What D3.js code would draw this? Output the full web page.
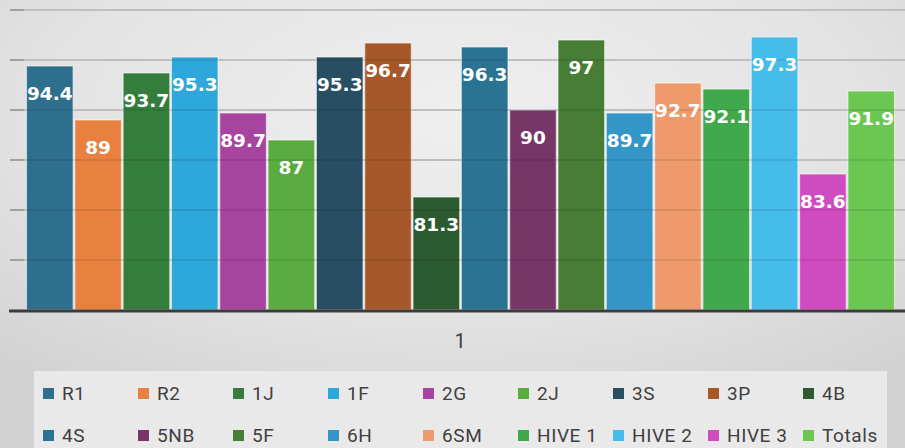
<!DOCTYPE html>
<html>
<head>
<meta charset="utf-8">
<script src="https://cdn.jsdelivr.net/npm/d3@7"></script>
<style>
  body { margin: 0; background: #e4e4e4; }
  svg { display: block; }
</style>
</head>
<body>
<script>
// data
var names = ["R1", "R2", "1J", "1F", "2G", "2J", "3S", "3P", "4B",
             "4S", "5NB", "5F", "6H", "6SM", "HIVE 1", "HIVE 2", "HIVE 3", "Totals"];
var values = [94.4, 89, 93.7, 95.3, 89.7, 87, 95.3, 96.7, 81.3,
              96.3, 90, 97, 89.7, 92.7, 92.1, 97.3, 83.6, 91.9];
var colors = ["#2e6f8e", "#e8803f", "#347d3c", "#2ea7db", "#a6449f", "#5aac40",
              "#274e63", "#a6582b", "#2c5a31", "#2a7392", "#783568", "#477d35",
              "#3496c8", "#ee9a6b", "#40a94b", "#45bcea", "#d04bbf", "#6cc652"];
var category = "1";
var yTicks = [70, 75, 80, 85, 90, 95, 100];

var W = 905, H = 448;

var svg = d3.select('body').append('svg')
            .attr('width', W)
            .attr('height', H);

// background
var defs = svg.append('defs');
var grad = defs.append('radialGradient')
               .attr('id', 'bg')
               .attr('cx', '50%').attr('cy', '25%').attr('r', '75%');
grad.append('stop').attr('offset', '0%').attr('stop-color', '#efefef');
grad.append('stop').attr('offset', '60%').attr('stop-color', '#e3e3e3');
grad.append('stop').attr('offset', '100%').attr('stop-color', '#d2d2d2');
svg.append('rect')
   .attr('width', W).attr('height', H)
   .attr('fill', 'url(#bg)');

// scales
var x = d3.scaleBand()
          .domain(names)
          .range([26, 895])
          .paddingInner(0.035)
          .paddingOuter(0.01);
var y = d3.scaleLinear()
          .domain([70, 100])
          .range([310, 10]);

// gridlines behind
svg.append('g')
   .selectAll('line')
   .data(yTicks.slice(1))
   .enter()
   .append('line')
   .attr('x1', 10).attr('x2', W)
   .attr('y1', d => y(d)).attr('y2', d => y(d))
   .attr('stroke', '#d0d0d0')
   .attr('stroke-width', 2);

// little ticks on the left
svg.append('g')
   .selectAll('line')
   .data(yTicks.slice(1))
   .enter()
   .append('line')
   .attr('x1', 10).attr('x2', 24)
   .attr('y1', d => y(d)).attr('y2', d => y(d))
   .attr('stroke', '#a0a0a0')
   .attr('stroke-width', 2);

// bars
svg.append('g')
   .selectAll('rect')
   .data(names)
   .enter()
   .append('rect')
   .attr('x', d => x(d))
   .attr('y', (d, i) => y(values[i]))
   .attr('width', x.bandwidth())
   .attr('height', (d, i) => y(70) - y(values[i]))
   .attr('fill', (d, i) => colors[i])
   .attr('stroke', 'rgba(255,255,255,0.55)')
   .attr('stroke-width', 1.2);

// gridlines showing through the bars
svg.append('g')
   .selectAll('line')
   .data(yTicks.slice(1))
   .enter()
   .append('line')
   .attr('x1', 24).attr('x2', W)
   .attr('y1', d => y(d)).attr('y2', d => y(d))
   .attr('stroke', 'rgba(0,0,0,0.08)')
   .attr('stroke-width', 2);

// value labels
svg.append('g')
   .selectAll('text')
   .data(names)
   .enter()
   .append('text')
   .attr('x', d => x(d) + x.bandwidth() / 2)
   .attr('y', (d, i) => y(values[i]) + 34)
   .attr('text-anchor', 'middle')
   .style('font-family', 'DejaVu Sans, sans-serif')
   .style('font-weight', 'bold')
   .style('font-size', '18.5px')
   .attr('fill', '#ffffff')
   .text((d, i) => values[i]);

// axis line
svg.append('line')
   .attr('x1', 9).attr('x2', W)
   .attr('y1', 311).attr('y2', 311)
   .attr('stroke', '#3c3c3c')
   .attr('stroke-width', 3);

// category label
svg.append('text')
   .attr('x', 460)
   .attr('y', 348)
   .attr('text-anchor', 'middle')
   .style('font-family', 'Roboto, sans-serif')
   .style('font-size', '20px')
   .attr('fill', '#404040')
   .text(category);

// legend
svg.append('rect')
   .attr('x', 34).attr('y', 371)
   .attr('width', 853).attr('height', 80)
   .attr('fill', '#e9e9e9');

var legend = svg.append('g')
                .selectAll('g')
                .data(names)
                .enter()
                .append('g')
                .attr('transform', (d, i) => 'translate(' + (43 + (i % 9) * 95) + ',' + (388 + Math.floor(i / 9) * 42) + ')');
legend.append('rect')
      .attr('width', 11).attr('height', 11)
      .attr('fill', (d, i) => colors[i]);
legend.append('text')
      .attr('x', 19)
      .attr('y', 12)
      .style('font-family', 'Roboto, sans-serif')
      .style('font-size', '19px')
      .style('letter-spacing', '0.6px')
      .attr('fill', '#404040')
      .text(d => d);
</script>
</body>
</html>
